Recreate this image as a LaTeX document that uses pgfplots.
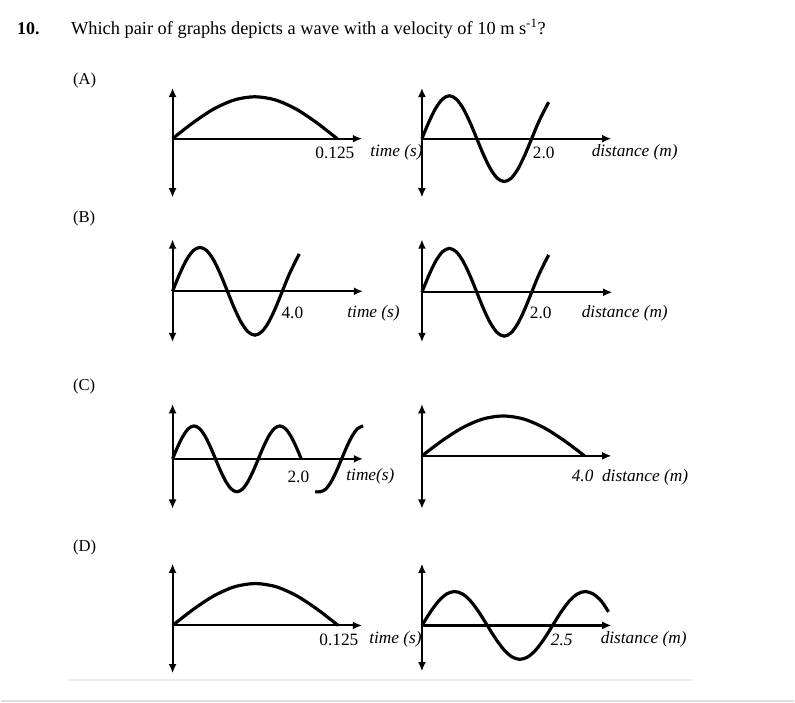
\documentclass[border=0pt]{standalone}
\usepackage{fontspec}
\setmainfont{Liberation Serif}
\usepackage{pgfplots}
\pgfplotsset{compat=1.18}
\usetikzlibrary{arrows.meta}
\pgfplotsset{
  wave/.style={scale only axis, hide axis, clip=false, anchor=south west, xmin=0},
}
\tikzset{
  ax/.style={line width=1.6pt},
  harr/.style={ax, -{Latex[length=7pt,width=6pt]}},
  varr/.style={ax, {Latex[length=7pt,width=6pt]}-{Latex[length=7pt,width=6pt]}},
  crv/.style={black, line width=2.4pt, smooth, mark=none},
  lbl/.style={anchor=west, inner sep=0pt, font=\fontsize{13}{15}\selectfont},
}
\begin{document}
\begin{tikzpicture}[x=0.75pt, y=-0.75pt]
\path (0,0) rectangle (795,704);
\coordinate (pAL) at (172,198);
\coordinate (pAR) at (422,198);
\coordinate (pBL) at (172,343);
\coordinate (pBR) at (422,343);
\coordinate (pCL) at (172,510);
\coordinate (pCR) at (422,510);
\coordinate (pDL) at (172,675);
\coordinate (pDR) at (422,673);
% header
\node[anchor=west, inner sep=0pt, font=\fontsize{13.5}{16}\selectfont\bfseries] at (16,29) {10.};
\node[anchor=west, inner sep=0pt, font=\fontsize{13.8}{16}\selectfont] at (70,29) {Which pair of graphs depicts a wave with a velocity of 10 m s\textsuperscript{-1}?};
\node[lbl, font=\fontsize{12.5}{15}\selectfont] at (72,81) {(A)};
\node[lbl, font=\fontsize{12.5}{15}\selectfont] at (72,219) {(B)};
\node[lbl, font=\fontsize{12.5}{15}\selectfont] at (72,387) {(C)};
\node[lbl, font=\fontsize{12.5}{15}\selectfont] at (72,549) {(D)};
% axis labels
\node[lbl] at (315,153) {0.125};
\node[lbl] at (370,153) {\itshape time (s)};
\node[lbl] at (533,153) {2.0};
\node[lbl] at (592,153) {\itshape distance (m)};
\node[lbl] at (281,314) {4.0};
\node[lbl] at (347,314) {\itshape time (s)};
\node[lbl] at (530,314) {2.0};
\node[lbl] at (582,314) {\itshape distance (m)};
\node[lbl] at (287,478) {2.0};
\node[lbl] at (346,478) {\itshape time(s)};
\node[lbl] at (572,479) {\itshape 4.0 \ distance (m)};
\node[lbl] at (319,641) {0.125};
\node[lbl] at (369,641) {\itshape time (s)};
\node[lbl] at (551,641) {\itshape 2.5};
\node[lbl] at (601,641) {\itshape distance (m)};
% separators
\draw[line width=1.5pt, black!7] (67,682) -- (694,682);
\draw[line width=1.5pt, black!12] (0,702.5) -- (795,702.5);

% ---------- (A) left ----------
\begin{axis}[wave, at={(pAL)}, width=142.5pt, height=82.5pt,
  xmax=0.14394, ymin=-1.4048, ymax=1.2143]
\addplot[crv] coordinates {(0,0) (0.015625,0.3827) (0.03125,0.7071) (0.046875,0.9239) (0.0625,1) (0.078125,0.9239) (0.09375,0.7071) (0.109375,0.3827) (0.125,0)};
\draw[harr] (axis cs:0,0) -- (axis cs:0.14394,0);
\draw[varr] (axis cs:0,-1.4048) -- (axis cs:0,1.2143);
\end{axis}
% ---------- (A) right ----------
\begin{axis}[wave, at={(pAR)}, width=142.5pt, height=82.5pt,
  xmax=3.4545, ymin=-1.3721, ymax=1.1860]
\addplot[crv] coordinates {(0,0) (0.125,0.3827) (0.25,0.7071) (0.375,0.9239) (0.5,1) (0.625,0.9239) (0.75,0.7071) (0.875,0.3827) (1,0) (1.125,-0.3827) (1.25,-0.7071) (1.375,-0.9239) (1.5,-1) (1.625,-0.9239) (1.75,-0.7071) (1.875,-0.3827) (2,0) (2.125,0.3827) (2.25,0.7071) (2.31,0.85)};
\draw[harr] (axis cs:0,0) -- (axis cs:3.4545,0);
\draw[varr] (axis cs:0,-1.3721) -- (axis cs:0,1.1860);
\end{axis}
% ---------- (B) left ----------
\begin{axis}[wave, at={(pBL)}, width=143.25pt, height=77.25pt,
  xmax=6.945, ymin=-1.1591, ymax=1.1818]
\addplot[crv] coordinates {(0,0) (0.25,0.3827) (0.5,0.7071) (0.75,0.9239) (1,1) (1.25,0.9239) (1.5,0.7071) (1.75,0.3827) (2,0) (2.25,-0.3827) (2.5,-0.7071) (2.75,-0.9239) (3,-1) (3.25,-0.9239) (3.5,-0.7071) (3.75,-0.3827) (4,0) (4.25,0.3827) (4.5,0.7071) (4.62,0.85)};
\draw[harr] (axis cs:0,0) -- (axis cs:6.945,0);
\draw[varr] (axis cs:0,-1.1591) -- (axis cs:0,1.1818);
\end{axis}
% ---------- (B) right ----------
\begin{axis}[wave, at={(pBR)}, width=143.25pt, height=77.25pt,
  xmax=3.4727, ymin=-1.1364, ymax=1.2045]
\addplot[crv] coordinates {(0,0) (0.125,0.3827) (0.25,0.7071) (0.375,0.9239) (0.5,1) (0.625,0.9239) (0.75,0.7071) (0.875,0.3827) (1,0) (1.125,-0.3827) (1.25,-0.7071) (1.375,-0.9239) (1.5,-1) (1.625,-0.9239) (1.75,-0.7071) (1.875,-0.3827) (2,0) (2.125,0.3827) (2.25,0.7071) (2.31,0.85)};
\draw[harr] (axis cs:0,0) -- (axis cs:3.4727,0);
\draw[varr] (axis cs:0,-1.1364) -- (axis cs:0,1.2045);
\end{axis}
% ---------- (C) left ----------
\begin{axis}[wave, at={(pCL)}, width=143.25pt, height=78.75pt,
  xmax=2.961, ymin=-1.5152, ymax=1.6667]
\addplot[crv] coordinates {(0,0) (0.0833,0.3827) (0.1667,0.7071) (0.25,0.9239) (0.3333,1) (0.4167,0.9239) (0.5,0.7071) (0.5833,0.3827) (0.6667,0) (0.75,-0.3827) (0.8333,-0.7071) (0.9167,-0.9239) (1.0,-1) (1.0833,-0.9239) (1.1667,-0.7071) (1.25,-0.3827) (1.3333,0) (1.4167,0.3827) (1.5,0.7071) (1.5833,0.9239) (1.6667,1) (1.75,0.9239) (1.8333,0.7071) (1.9167,0.3827) (2.0,0)};
\addplot[crv] coordinates {(2.217,-1) (2.2946,-1) (2.3779,-0.9239) (2.4612,-0.7071) (2.5446,-0.3827) (2.6279,0) (2.7112,0.3827) (2.7946,0.7071) (2.8779,0.9239) (2.9612,1)};
\draw[harr] (axis cs:0,0) -- (axis cs:2.961,0);
\draw[varr] (axis cs:0,-1.5152) -- (axis cs:0,1.6667);
\end{axis}
% ---------- (C) right ----------
\begin{axis}[wave, at={(pCR)}, width=142.5pt, height=78.75pt,
  xmax=4.663, ymin=-1.325, ymax=1.3]
\addplot[crv] coordinates {(0,0) (0.5,0.3827) (1,0.7071) (1.5,0.9239) (2,1) (2.5,0.9239) (3,0.7071) (3.5,0.3827) (4,0)};
\draw[harr] (axis cs:0,0) -- (axis cs:4.663,0);
\draw[varr] (axis cs:0,-1.325) -- (axis cs:0,1.3);
\end{axis}
% ---------- (D) left ----------
\begin{axis}[wave, at={(pDL)}, width=142.5pt, height=82.5pt,
  xmax=0.1431, ymin=-1.1429, ymax=1.4762]
\addplot[crv] coordinates {(0,0) (0.015625,0.3827) (0.03125,0.7071) (0.046875,0.9239) (0.0625,1) (0.078125,0.9239) (0.09375,0.7071) (0.109375,0.3827) (0.125,0)};
\draw[harr] (axis cs:0,0) -- (axis cs:0.1431,0);
\draw[varr] (axis cs:0,-1.1429) -- (axis cs:0,1.4762);
\end{axis}
% ---------- (D) right ----------
\begin{axis}[wave, at={(pDR)}, width=142.5pt, height=81pt,
  xmax=3.626, ymin=-1.3529, ymax=1.8235]
\addplot[crv] coordinates {(0,0) (0.15625,0.3827) (0.3125,0.7071) (0.46875,0.9239) (0.625,1) (0.78125,0.9239) (0.9375,0.7071) (1.09375,0.3827) (1.25,0) (1.40625,-0.3827) (1.5625,-0.7071) (1.71875,-0.9239) (1.875,-1) (2.03125,-0.9239) (2.1875,-0.7071) (2.34375,-0.3827) (2.5,0) (2.65625,0.3827) (2.8125,0.7071) (2.96875,0.9239) (3.125,1) (3.28125,0.9239) (3.4375,0.7071) (3.57,0.4)};
\draw[harr] (axis cs:0,0) -- (axis cs:3.626,0);
\draw[varr] (axis cs:0,-1.3529) -- (axis cs:0,1.8235);
\end{axis}
\end{tikzpicture}
\end{document}
